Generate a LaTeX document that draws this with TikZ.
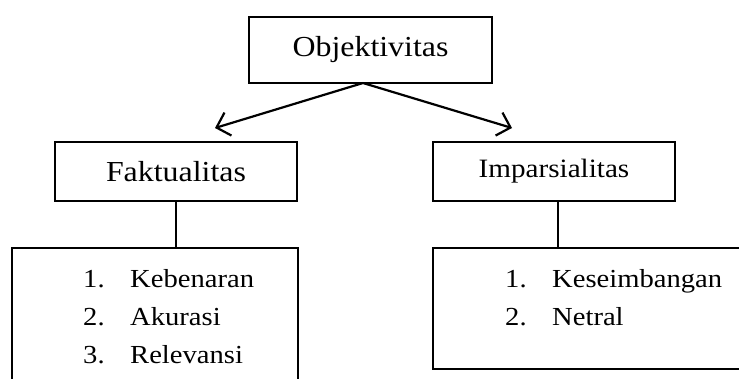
\documentclass[tikz,border=0pt]{standalone}
\usepackage{fontspec}
\setmainfont[FakeStretch=1.1]{Liberation Serif}
\usetikzlibrary{arrows.meta}
\begin{document}
\begin{tikzpicture}[x=1pt,y=-1pt,
  box/.style={draw,line width=2pt,inner sep=0pt},
  conn/.style={line width=2pt},
  arr/.style={line width=2.2pt,-{Straight Barb[length=12pt,width=24pt,line width=2.2pt]}},
  head/.style={font=\fontsize{29}{32}\selectfont},
  item/.style={font=\fontsize{26}{30}\selectfont,anchor=base west,inner sep=0pt}]
\useasboundingbox (0,0) rectangle (739,378);
\begin{scope}
\clip (0,0) rectangle (739,378);
\node[box,minimum width=243pt,minimum height=66pt] (obj) at (370.5,50) {};
\node[head] (objt) at (370.5,50) {Objektivitas};
\node[box,minimum width=242pt,minimum height=59pt] (fak) at (176,171.5) {};
\node[head] (fakt) at (176,171.5) {Faktualitas};
\node[box,minimum width=242pt,minimum height=59pt] (imp) at (554,171.5) {};
\node[font=\fontsize{26.5}{30}\selectfont] (impt) at (554,171.5) {Imparsialitas};
\node[box,minimum width=286pt,minimum height=152pt] (bl) at (155,324) {};
\node[box,minimum width=327pt,minimum height=121pt] (br) at (596.5,308.5) {};
\end{scope}
\coordinate (apex) at (363,83);
\coordinate (tipl) at (215,128);
\coordinate (tipr) at (512,128);
\draw[arr] (apex) -- (tipl);
\draw[arr] (apex) -- (tipr);
\draw[conn] (fak.south) -- (fak.south |- bl.north);
\draw[conn] ([xshift=4pt]imp.south) -- ([xshift=4pt]imp.south |- br.north);
\node[item] (n1) at (83,287) {1.};
\node[item] (t1) at (130,287) {Kebenaran};
\node[item] (n2) at (83,325) {2.};
\node[item] (t2) at (130,325) {Akurasi};
\node[item] (n3) at (83,363) {3.};
\node[item] (t3) at (130,363) {Relevansi};
\node[item] (m1) at (505,287) {1.};
\node[item] (s1) at (552,287) {Keseimbangan};
\node[item] (m2) at (505,325) {2.};
\node[item] (s2) at (552,325) {Netral};
\end{tikzpicture}
\end{document}
